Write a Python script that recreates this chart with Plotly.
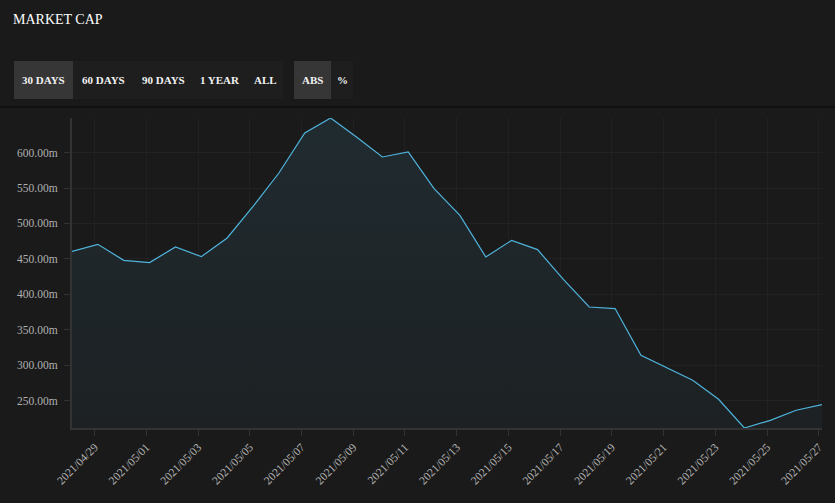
import plotly.graph_objects as go

# Market cap (millions), one point per day
dates = [
    "2021-04-28", "2021-04-29", "2021-04-30", "2021-05-01", "2021-05-02",
    "2021-05-03", "2021-05-04", "2021-05-05", "2021-05-06", "2021-05-07",
    "2021-05-08", "2021-05-09", "2021-05-10", "2021-05-11", "2021-05-12",
    "2021-05-13", "2021-05-14", "2021-05-15", "2021-05-16", "2021-05-17",
    "2021-05-18", "2021-05-19", "2021-05-20", "2021-05-21", "2021-05-22",
    "2021-05-23", "2021-05-24", "2021-05-25", "2021-05-26", "2021-05-27",
]
market_cap = [
    460.7, 470.6, 448.0, 444.8, 466.8, 453.2, 479.5, 524.0, 571.2, 627.7,
    648.8, 622.0, 593.8, 600.8, 549.2, 511.5, 452.7, 476.2, 463.1, 421.2,
    382.1, 379.9, 313.9, 296.0, 278.7, 251.9, 211.4, 222.2, 236.4, 244.4,
]
range_buttons = ["30 DAYS", "60 DAYS", "90 DAYS", "1 YEAR", "ALL"]
mode_buttons = ["ABS", "%"]

times = [d + " 03:00" for d in dates]

W, H = 835, 503
L, R, T, B = 72, 13, 118, 75
PW, PH = W - L - R, H - T - B

BG = "#1a1a1a"
SERIF = "Liberation Serif"


def px(x):
    return (x - L) / PW


def py(y):
    return (H - B - y) / PH


fig = go.Figure()

fig.add_trace(go.Scatter(
    x=times, y=market_cap, mode="lines",
    line=dict(color="#4fb4dc", width=1.2),
    fill="tozeroy",
    fillgradient=dict(type="vertical",
                      colorscale=[[0, "#1b1c1d"], [1, "#202b30"]]),
    hoverinfo="x+y", showlegend=False,
))

shapes = []
annotations = []

# header separator
shapes.append(dict(type="line", xref="paper", yref="paper",
                   x0=px(0), x1=px(W), y0=py(107), y1=py(107),
                   line=dict(color="#101010", width=2), layer="below"))

# toolbar groups
groups = [
    (range_buttons, [14, 73, 133, 193, 247, 283], 0),
    (mode_buttons, [294, 331, 353], 0),
]
for labels, edges, active in groups:
    shapes.append(dict(type="rect", xref="paper", yref="paper",
                       x0=px(edges[0]), x1=px(edges[-1]), y0=py(99), y1=py(61),
                       fillcolor="#1e1e1e", line=dict(width=0), layer="below"))
    for i, lab in enumerate(labels):
        if i == active:
            shapes.append(dict(type="rect", xref="paper", yref="paper",
                               x0=px(edges[i]), x1=px(edges[i + 1]),
                               y0=py(99), y1=py(61),
                               fillcolor="#363636", line=dict(width=0),
                               layer="below"))
        annotations.append(dict(
            xref="paper", yref="paper",
            x=px((edges[i] + edges[i + 1]) / 2), y=py(80),
            text="<b>" + lab + "</b>", showarrow=False,
            xanchor="center", yanchor="middle",
            font=dict(family=SERIF, size=11, color="#f2f2f2"),
        ))

annotations.append(dict(
    xref="paper", yref="paper", x=px(11), y=py(19),
    text="MARKET CAP", showarrow=False, xanchor="left", yanchor="middle",
    font=dict(family=SERIF, size=14, color="#ffffff"),
))

fig.update_layout(
    width=W, height=H,
    margin=dict(l=L, r=R, t=T, b=B),
    paper_bgcolor=BG, plot_bgcolor=BG,
    shapes=shapes, annotations=annotations,
    font=dict(family=SERIF, color="#b0b0b0"),
    xaxis=dict(
        type="date", range=[times[0], times[-1]],
        dtick=2 * 86400000, tick0="2021-04-29",
        tickformat="%Y/%m/%d", tickangle=-45,
        tickfont=dict(family=SERIF, size=11.5, color="#b4b4b4"),
        showgrid=True, gridcolor="#212121", gridwidth=1,
        showline=True, linecolor="#333333", linewidth=2,
        ticks="outside", ticklen=6, tickcolor="#333333",
        zeroline=False,
    ),
    yaxis=dict(
        range=[min(market_cap), max(market_cap)],
        dtick=50, tick0=0, tickformat=".2f", ticksuffix="m",
        tickfont=dict(family=SERIF, size=11.5, color="#b0b0b0"),
        ticklabelstandoff=4,
        showgrid=True, gridcolor="#222222", gridwidth=1,
        showline=True, linecolor="#333333", linewidth=2,
        ticks="outside", ticklen=6, tickcolor="#333333",
        zeroline=False,
    ),
)

fig.write_html(
    "out.html",
    config={"displayModeBar": False},
    post_script="document.body.style.margin='0';"
                "document.body.style.background='#1a1a1a';",
)
